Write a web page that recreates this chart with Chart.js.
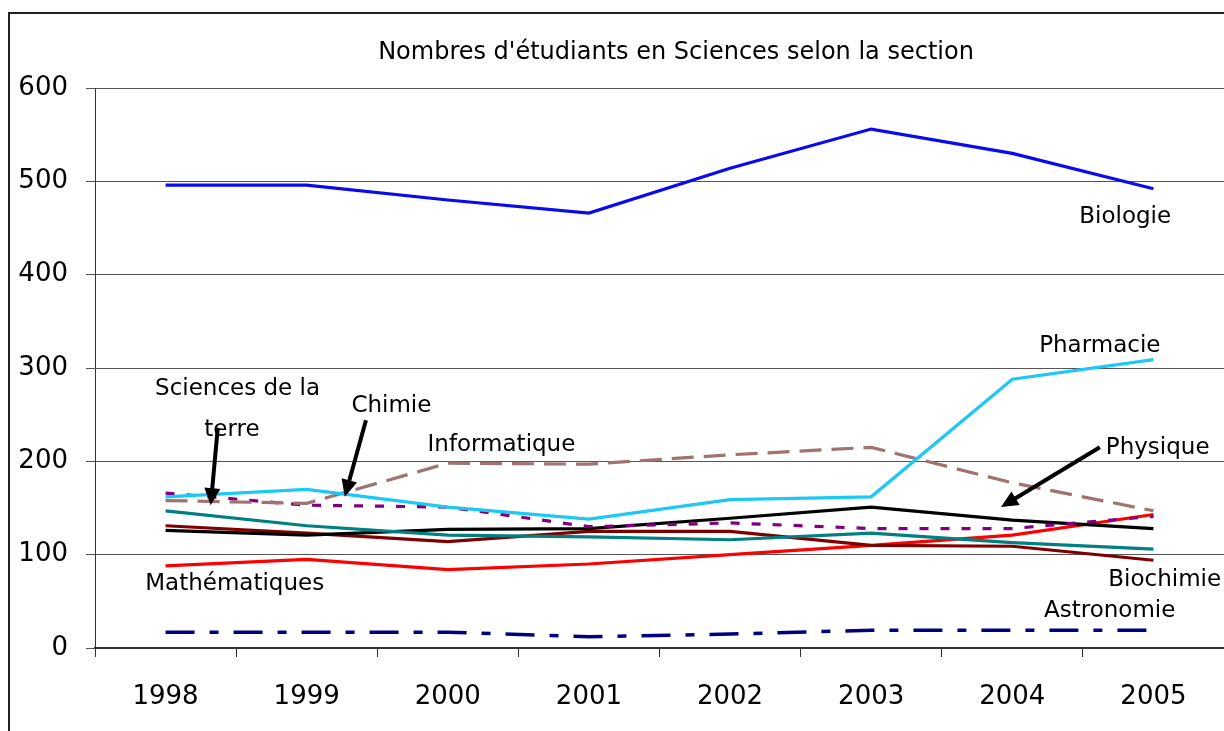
<!DOCTYPE html>
<html>
<head>
<meta charset="utf-8">
<script src="https://cdn.jsdelivr.net/npm/chart.js@4.4.1/dist/chart.umd.min.js"></script>
<style>
  html, body { margin: 0; padding: 0; background: #fff; }
  #wrap { width: 1224px; height: 731px; }
</style>
</head>
<body>
<div id="wrap"><canvas id="chart" width="1224" height="731"></canvas></div>
<script>
// Nombres d'étudiants par section, 1998-2005
const years = ['1998', '1999', '2000', '2001', '2002', '2003', '2004', '2005'];
const biologie      = [496, 496, 480, 466, 514, 556, 530, 492];
const pharmacie     = [162, 170, 151, 138, 159, 162, 288, 309];
const informatique  = [158, 155, 198, 197, 207, 215, 177, 147];
const chimie        = [166, 153, 151, 130, 134, 128, 128, 141];
const sciencesTerre = [147, 131, 121, 119, 116, 123, 113, 106];
const physique      = [126, 121, 127, 128, 139, 151, 137, 128];
const biochimie     = [131, 123, 114, 125, 125, 110, 109, 94];
const mathematiques = [88, 95, 84, 90, 100, 110, 121, 143];
const astronomie    = [17, 17, 17, 12, 15, 19, 19, 19];
const yTicks = [0, 100, 200, 300, 400, 500, 600];

// étiquettes posées dans le graphique (x = index année, y = valeur)
const labels = [
    { text: 'Biologie', x: 6.80, y: 462 },
    { text: 'Pharmacie', x: 6.62, y: 324 },
    { text: 'Sciences de la', x: 0.51, y: 278 },
    { text: 'terre', x: 0.47, y: 234 },
    { text: 'Chimie', x: 1.60, y: 259 },
    { text: 'Informatique', x: 2.38, y: 217 },
    { text: 'Physique', x: 7.03, y: 214 },
    { text: 'Biochimie', x: 7.08, y: 73 },
    { text: 'Astronomie', x: 6.69, y: 40 },
    { text: 'Mathématiques', x: 0.49, y: 69 }
];
const arrows = [
    { from: [0.37, 236], to: [0.32, 153] },
    { from: [1.42, 244], to: [1.27, 162] },
    { from: [6.62, 215], to: [5.92, 151] }
];

const FONT = '"DejaVu Sans", sans-serif';

function serie(label, data, color, dash, width) {
    return {
        label: label,
        data: data,
        borderColor: color,
        backgroundColor: color,
        borderWidth: width || 3.2,
        borderDash: dash || [],
        pointRadius: 0,
        tension: 0,
        fill: false
    };
}

const decorations = {
    id: 'decorations',
    afterDraw(chart) {
        const ctx = chart.ctx;
        const xs = chart.scales.x;
        const ys = chart.scales.y;
        const px = v => xs.left + (v + 0.5) * (xs.right - xs.left) / years.length;
        ctx.save();
        // cadre
        ctx.strokeStyle = '#222';
        ctx.lineWidth = 2;
        ctx.beginPath();
        ctx.moveTo(9, 731);
        ctx.lineTo(9, 13);
        ctx.lineTo(1224, 13);
        ctx.stroke();
        // titre
        ctx.fillStyle = '#000';
        ctx.font = '24px ' + FONT;
        ctx.textAlign = 'center';
        ctx.textBaseline = 'middle';
        ctx.fillText("Nombres d'étudiants en Sciences selon la section", 676, 53);
        // étiquettes
        ctx.font = '23px ' + FONT;
        labels.forEach(l => ctx.fillText(l.text, px(l.x), ys.getPixelForValue(l.y)));
        // flèches
        arrows.forEach(a => {
            const x1 = px(a.from[0]), y1 = ys.getPixelForValue(a.from[1]);
            const x2 = px(a.to[0]), y2 = ys.getPixelForValue(a.to[1]);
            const ang = Math.atan2(y2 - y1, x2 - x1);
            const head = 17, half = 8;
            ctx.strokeStyle = '#000';
            ctx.lineWidth = 4;
            ctx.beginPath();
            ctx.moveTo(x1, y1);
            ctx.lineTo(x2 - Math.cos(ang) * head * 0.8, y2 - Math.sin(ang) * head * 0.8);
            ctx.stroke();
            ctx.beginPath();
            ctx.moveTo(x2, y2);
            ctx.lineTo(x2 - Math.cos(ang) * head - Math.sin(ang) * half, y2 - Math.sin(ang) * head + Math.cos(ang) * half);
            ctx.lineTo(x2 - Math.cos(ang) * head + Math.sin(ang) * half, y2 - Math.sin(ang) * head - Math.cos(ang) * half);
            ctx.closePath();
            ctx.fill();
        });
        ctx.restore();
    }
};

new Chart(document.getElementById('chart'), {
    type: 'line',
    data: {
        labels: years,
        datasets: [
            serie('Biologie', biologie, '#0A0AF0'),
            serie('Pharmacie', pharmacie, '#1CC8F4'),
            serie('Informatique', informatique, '#A07272', [22, 10]),
            serie('Chimie', chimie, '#800080', [9, 12]),
            serie('Sciences de la terre', sciencesTerre, '#008080'),
            serie('Physique', physique, '#000000'),
            serie('Biochimie', biochimie, '#800000'),
            serie('Mathématiques', mathematiques, '#FF0000'),
            serie('Astronomie', astronomie, '#000080', [29, 15, 9, 15], 3.5)
        ]
    },
    options: {
        responsive: false,
        animation: false,
        layout: { padding: { top: 88, left: 0, right: 0, bottom: 0 } },
        plugins: {
            legend: { display: false },
            title: { display: false },
            tooltip: { enabled: false }
        },
        scales: {
            x: {
                offset: true,
                grid: { drawOnChartArea: false, offset: true, tickLength: 9, color: '#333' },
                border: { color: '#333', width: 2 },
                ticks: { color: '#000', padding: 25, font: { family: FONT, size: 26 } },
                afterFit(s) { s.height = 83; }
            },
            y: {
                min: 0,
                max: 600,
                afterBuildTicks(s) { s.ticks = yTicks.map(v => ({ value: v })); },
                grid: { color: '#555', tickLength: 9 },
                border: { color: '#333', width: 1 },
                ticks: { color: '#000', padding: 18, font: { family: FONT, size: 26 } },
                afterFit(s) { s.width = 95; }
            }
        }
    },
    plugins: [decorations]
});
</script>
</body>
</html>
